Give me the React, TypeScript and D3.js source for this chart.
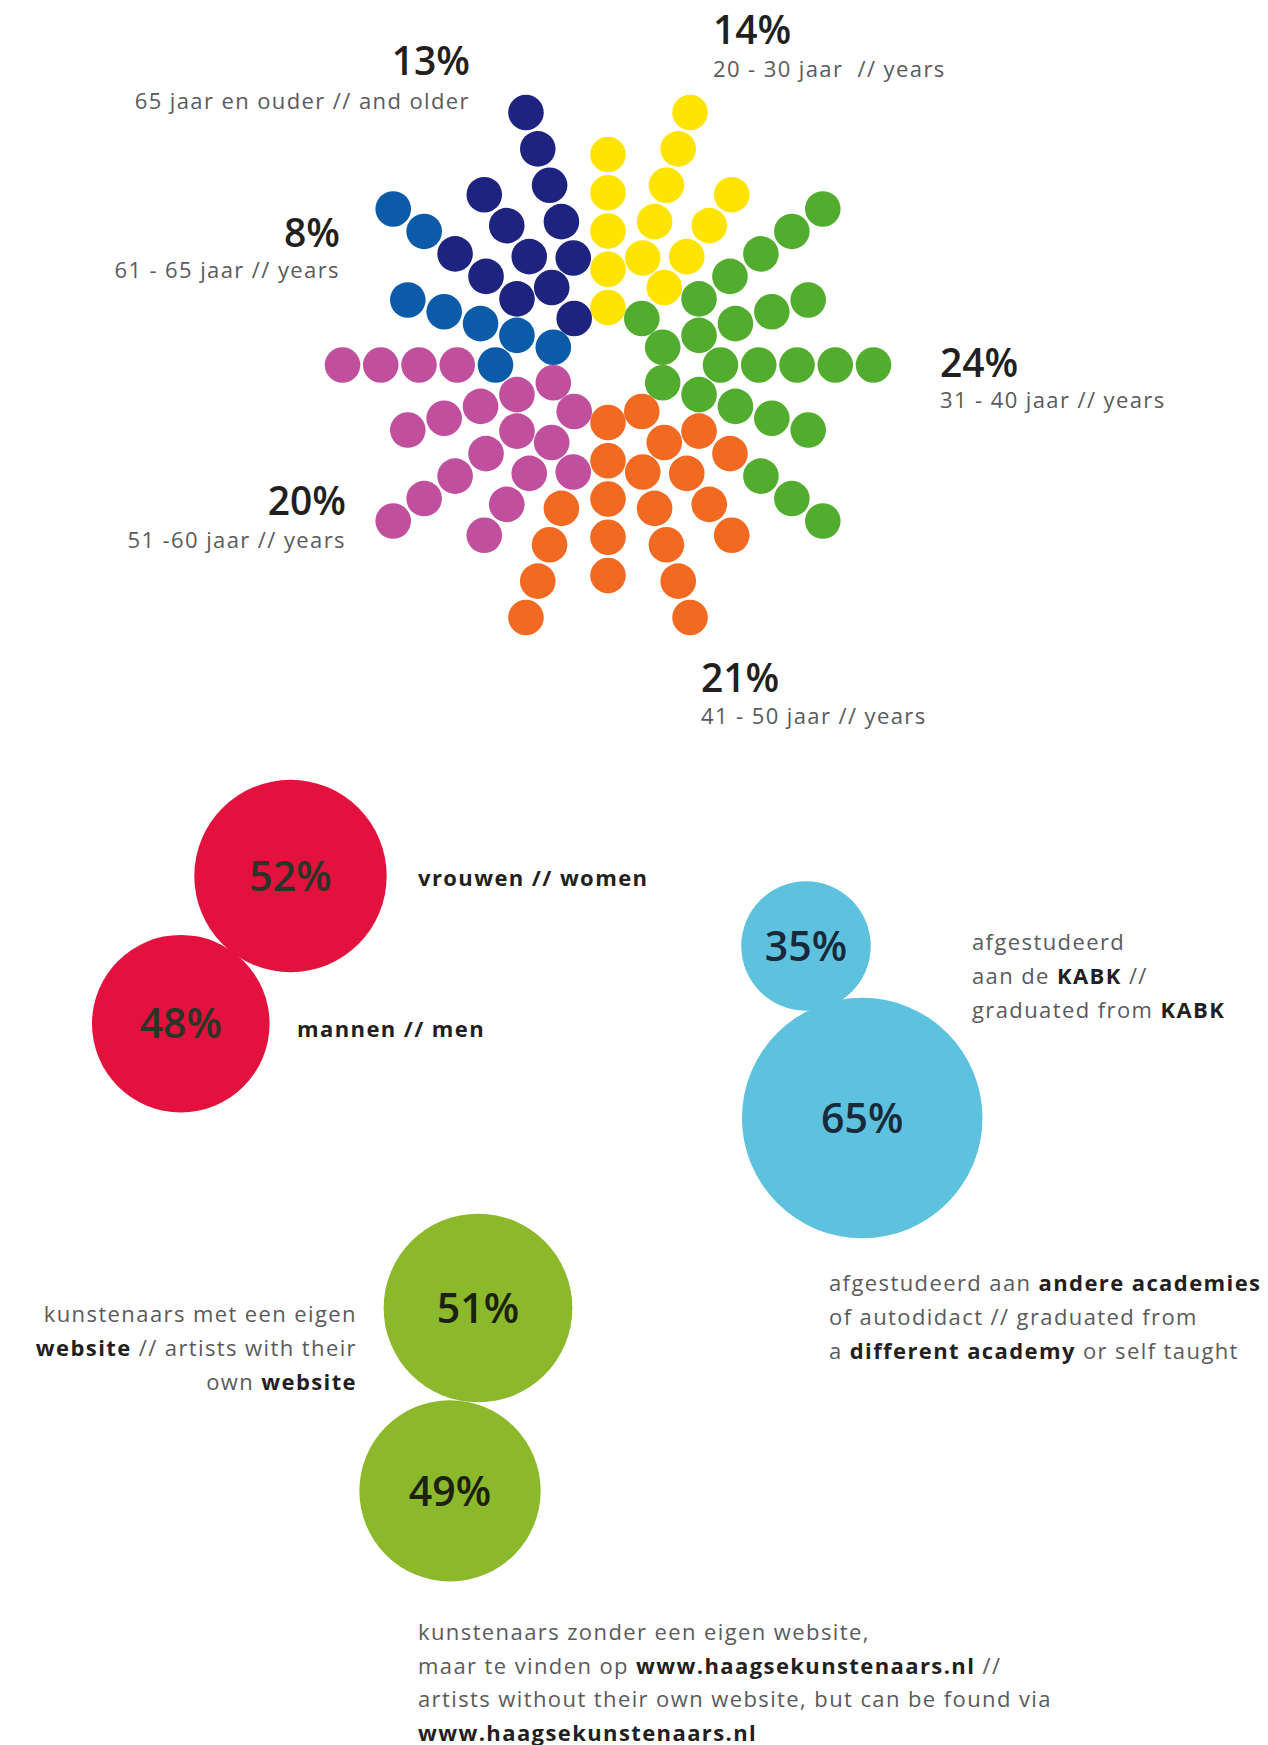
import * as d3 from 'd3';

// age groups, in the order the dots are coloured (clockwise from the top)
const ageHeads = ['14%', '24%', '21%', '20%', '8%', '13%'];
const ageValues = [14, 24, 21, 20, 8, 13];
const ageTexts = [
  '20 - 30 jaar  // years',
  '31 - 40 jaar // years',
  '41 - 50 jaar // years',
  '51 -60 jaar // years',
  '61 - 65 jaar // years',
  '65 jaar en ouder // and older',
];
const ageColors = ['#FFE400', '#52AD2E', '#F26A22', '#C04F9E', '#0B5BA8', '#1F2380'];

const genderValues = [52, 48];
const genderTexts = ['vrouwen // women', 'mannen // men'];
const academyValues = [35, 65];
const websiteValues = [51, 49];

type Seg = [string, boolean];
const academyText1: Seg[][] = [
  [['afgestudeerd', false]],
  [['aan de ', false], ['KABK', true], [' //', false]],
  [['graduated from ', false], ['KABK', true]],
];
const academyText2: Seg[][] = [
  [['afgestudeerd aan ', false], ['andere academies', true]],
  [['of autodidact // graduated from', false]],
  [['a ', false], ['different academy', true], [' or self taught', false]],
];
const websiteText1: Seg[][] = [
  [['kunstenaars met een eigen', false]],
  [['website', true], [' // artists with their', false]],
  [['own ', false], ['website', true]],
];
const websiteText2: Seg[][] = [
  [['kunstenaars zonder een eigen website,', false]],
  [['maar te vinden op ', false], ['www.haagsekunstenaars.nl', true], [' //', false]],
  [['artists without their own website, but can be found via', false]],
  [['www.haagsekunstenaars.nl', true]],
];

const W = 1268;
const H = 1745;
const FONT = "'Open Sans', sans-serif";
const GREY = '#5a5a5c';
const DARK = '#231f20';

// starburst layout
const CX = 608;
const CY = 365;
const RAYS = 20;
const PER_RAY = 5;
const STEP = 38.25;
const DOT_R = 17.8;

// label anchors for the age groups (same order as ageValues)
const ageLabelPos = [
  { x: 713, y: 44, dy: 33, anchor: 'start' },
  { x: 940, y: 377, dy: 31, anchor: 'start' },
  { x: 701, y: 692, dy: 32, anchor: 'start' },
  { x: 346, y: 515, dy: 33, anchor: 'end' },
  { x: 340, y: 247, dy: 31, anchor: 'end' },
  { x: 470, y: 75, dy: 34, anchor: 'end' },
];

const rScale = d3.scaleLinear().domain([0, 100]).range([0, 185]);

function pair(values: number[], anchor: [number, number], angleDeg: number, overlap = 0) {
  const r0 = rScale(values[0]);
  const r1 = rScale(values[1]);
  const a = (angleDeg * Math.PI) / 180;
  const d = r0 + r1 - overlap;
  return [
    { x: anchor[0], y: anchor[1], r: r0, v: values[0] },
    { x: anchor[0] + d * Math.cos(a), y: anchor[1] + d * Math.sin(a), r: r1, v: values[1] },
  ];
}

function RichText({ x, y, lines, anchor = 'start', lh = 34 }: { x: number; y: number; lines: Seg[][]; anchor?: string; lh?: number }) {
  return (
    <text x={x} y={y} textAnchor={anchor} fontFamily={FONT} fontSize={22} letterSpacing={1.4} style={{ whiteSpace: 'pre' }}>
      {lines.map((segs, i) => (
        <tspan key={i} x={x} y={y + i * lh}>
          {segs.map(([t, b], j) => (
            <tspan key={j} fontWeight={b ? 700 : 400} fill={b ? DARK : GREY}>
              {t}
            </tspan>
          ))}
        </tspan>
      ))}
    </text>
  );
}

export default function App() {
  const innerR = d3.scaleLinear().domain([0, PER_RAY - 1]).range([57.5, 57.5 + (PER_RAY - 1) * STEP]);
  const outerR = d3.scaleLinear().domain([0, PER_RAY - 1]).range([112.5, 112.5 + (PER_RAY - 1) * STEP]);
  const colorSeq = ageValues.flatMap((v, i) => d3.range(v).map(() => ageColors[i]));
  const angle = d3.scaleLinear().domain([0, RAYS]).range([90, 90 - 360]);

  const dots = d3.range(RAYS * PER_RAY).map((n) => {
    const ray = Math.floor(n / PER_RAY);
    const k = PER_RAY - 1 - (n % PER_RAY); // outer dot first
    const a = (angle(ray) * Math.PI) / 180;
    const r = (ray % 2 === 0 ? innerR : outerR)(k);
    return { x: CX + r * Math.cos(a), y: CY - r * Math.sin(a), color: colorSeq[n] };
  });

  const red = pair(genderValues, [290.5, 876], 126.6, 1);
  const blue = pair(academyValues, [806, 946], 71.9, 4);
  const green = pair(websiteValues, [478, 1308], 98.7, 0);

  const circleGroup = (cs: { x: number; y: number; r: number; v: number }[], fill: string, txt: string) =>
    cs.map((c, i) => (
      <g key={i}>
        <circle cx={c.x} cy={c.y} r={c.r} fill={fill} />
        <text x={c.x} y={c.y} dy="0.36em" textAnchor="middle" fontFamily={FONT} fontWeight={600} fontSize={41} fill={txt}>
          {c.v}%
        </text>
      </g>
    ));

  return (
    <svg width={W} height={H} viewBox={`0 0 ${W} ${H}`} style={{ position: 'absolute', left: 0, top: 0, background: '#fff' }}>
      <rect width={W} height={H} fill="#fff" />

      <g>
        {dots.map((d, i) => (
          <circle key={i} cx={d.x} cy={d.y} r={DOT_R} fill={d.color} />
        ))}
      </g>

      {ageLabelPos.map((p, i) => (
        <g key={i}>
          <text x={p.x} y={p.y} textAnchor={p.anchor} fontFamily={FONT} fontWeight={600} fontSize={39} fill={DARK}>
            {ageHeads[i]}
          </text>
          <text x={p.x} y={p.y + p.dy} textAnchor={p.anchor} fontFamily={FONT} fontSize={22} letterSpacing={1.4} fill={GREY} style={{ whiteSpace: 'pre' }}>
            {ageTexts[i]}
          </text>
        </g>
      ))}

      {circleGroup(red, '#E2113D', '#2a3527')}
      <text x={418} y={886} fontFamily={FONT} fontWeight={700} fontSize={22} letterSpacing={1.4} fill={DARK}>
        {genderTexts[0]}
      </text>
      <text x={297} y={1037} fontFamily={FONT} fontWeight={700} fontSize={22} letterSpacing={1.4} fill={DARK}>
        {genderTexts[1]}
      </text>

      {circleGroup(blue, '#5EC1DE', '#182a3a')}
      <RichText x={972} y={950} lines={academyText1} />
      <RichText x={829} y={1291} lines={academyText2} />

      {circleGroup(green, '#8CB82B', '#1b220f')}
      <RichText x={357} y={1322} lines={websiteText1} anchor="end" />
      <RichText x={418} y={1640} lines={websiteText2} lh={33.5} />
    </svg>
  );
}
